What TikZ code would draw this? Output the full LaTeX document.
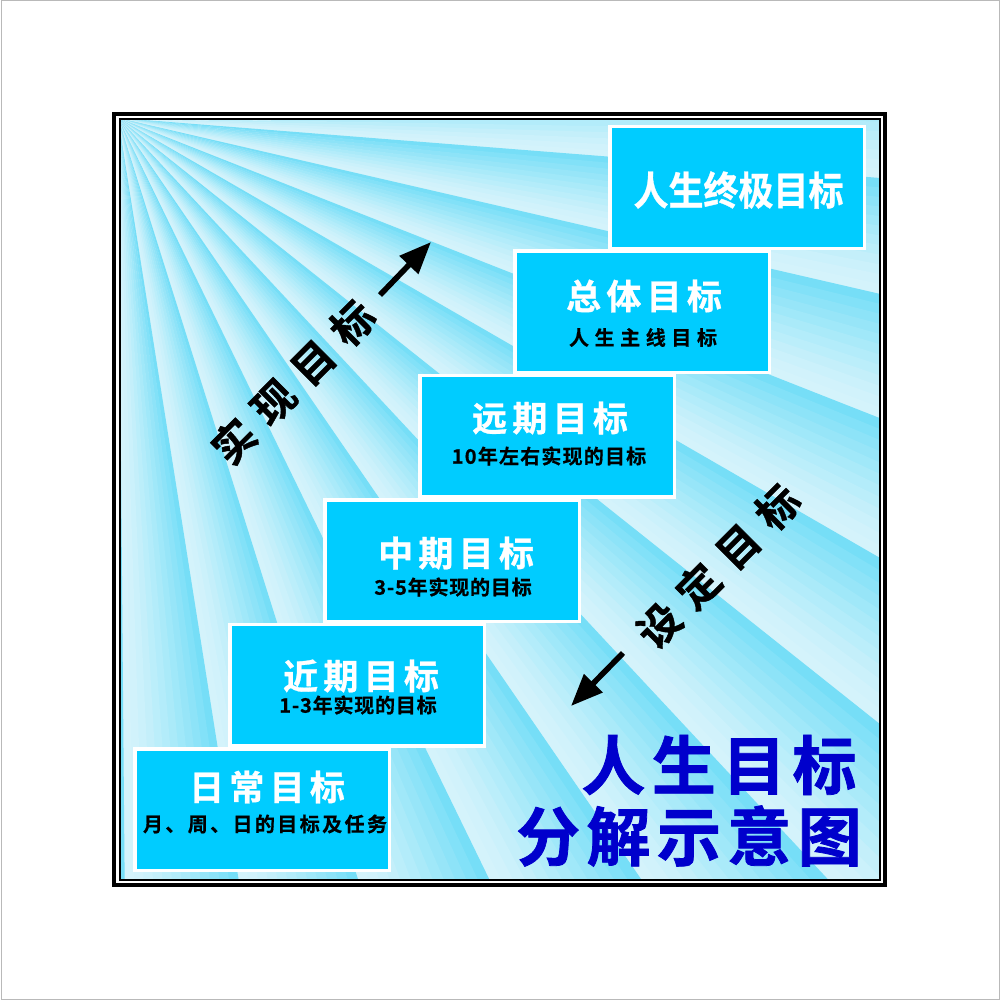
\documentclass[tikz,border=0pt]{standalone}
\usepackage{fontspec}
\usetikzlibrary{arrows.meta}
\newfontfamily\cjkb{Noto Sans CJK SC Bold}
\definecolor{rayL}{RGB}{212,243,251}
\definecolor{rayB}{RGB}{95,217,246}
\definecolor{boxC}{RGB}{0,204,255}
\definecolor{navy}{RGB}{0,0,204}
\begin{document}
\begin{tikzpicture}[x=0.5pt,y=-0.5pt,
  box/.style={draw=white, line width=1.75pt, fill=boxC, minimum width=127.25pt,
    minimum height=60.75pt, inner sep=0pt, outer sep=0pt},
  ttl/.style={text=white, inner sep=0pt,
    font={\cjkb\addfontfeature{LetterSpace=15,FakeBold=0.8}\fontsize{17.5pt}{17.5pt}\selectfont}},
  ttltop/.style={text=white, inner sep=0pt, yscale=1.13, transform shape,
    font={\cjkb\addfontfeature{FakeBold=0.8}\fontsize{17.5pt}{17.5pt}\selectfont}},
  subt/.style={text=black, inner sep=0pt,
    font={\cjkb\addfontfeature{LetterSpace=#1,FakeBold=0.6}\fontsize{10pt}{10pt}\selectfont}},
  rot/.style={text=black, inner sep=0pt, rotate=45,
    font={\cjkb\addfontfeature{LetterSpace=33,FakeBold=1}\fontsize{21pt}{21pt}\selectfont}},
  big/.style={text=navy, inner sep=0pt,
    font={\cjkb\addfontfeature{LetterSpace=10,FakeBold=1.2}\fontsize{32pt}{32pt}\selectfont}},
  arr/.style={line width=2.8pt, -{Triangle[length=16pt,width=12.5pt]}},
]
\useasboundingbox (0,0) rectangle (1000,1000);
\draw[gray!55, line width=0.5pt] (1,1) rectangle (999,999);
% background rays
\begin{scope}
  \clip (121,121) rectangle (879,879);
  \fill[rayL] (121,121) rectangle (879,879);
  \begin{scope}[shift={(118,118)}]
    \foreach \i in {0,...,11}{
      \foreach \j in {0,...,11}{
        \pgfmathsetmacro\a{-4+8.5*\i+0.7083*\j}
        \pgfmathsetmacro\b{\a+0.78}
        \pgfmathtruncatemacro\p{80*(1-\j/11)^1.3}
        \fill[rayB!\p!rayL] (0,0) -- (\a:1300) -- (\b:1300) -- cycle;
      }
    }
  \end{scope}
\end{scope}
% frame
\draw[line width=1.75pt] (114,114) rectangle (885,885);
\draw[line width=1pt] (119.5,119.5) rectangle (880,880);
% boxes
\node[box] (b0) at (262,809.5) {};
\node[box] (b1) at (357,685.1) {};
\node[box] (b2) at (452,560.7) {};
\node[box] (b3) at (547,436.3) {};
\node[box] (b4) at (642,311.9) {};
\node[box] (b5) at (737,187.5) {};
% texts
\node[ttltop] (t5) at (738.5,190) {人生终极目标};
\node[ttl] (t4) at (644,296) {总体目标};
\node[subt=28] (s4) at (643,337.5) {人生主线目标};
\node[ttl] (t3) at (550,418) {远期目标};
\node[subt=6] (s3) at (549,456) {10年左右实现的目标};
\node[ttl] (t2) at (456,553) {中期目标};
\node[subt=4] (s2) at (453,587) {3-5年实现的目标};
\node[ttl] (t1) at (361,676) {近期目标};
\node[subt=4] (s1) at (358,705) {1-3年实现的目标};
\node[ttl] (t0) at (267,787) {日常目标};
\node[subt=12] (s0) at (265,824) {月、周、日的目标及任务};
% diagonal labels and arrows
\node[rot] (r1) at (293,382) {实现目标};
\coordinate (a1s) at (380,295);
\coordinate (a1e) at (431,242);
\draw[arr] (a1s) -- (a1e);
\node[rot] (r2) at (718,566) {设定目标};
\coordinate (a2s) at (623,653);
\coordinate (a2e) at (571,706);
\draw[arr] (a2s) -- (a2e);
% big title
\node[big] (g1) at (719,765) {人生目标};
\node[big] (g2) at (689,836) {分解示意图};
\end{tikzpicture}
\end{document}
